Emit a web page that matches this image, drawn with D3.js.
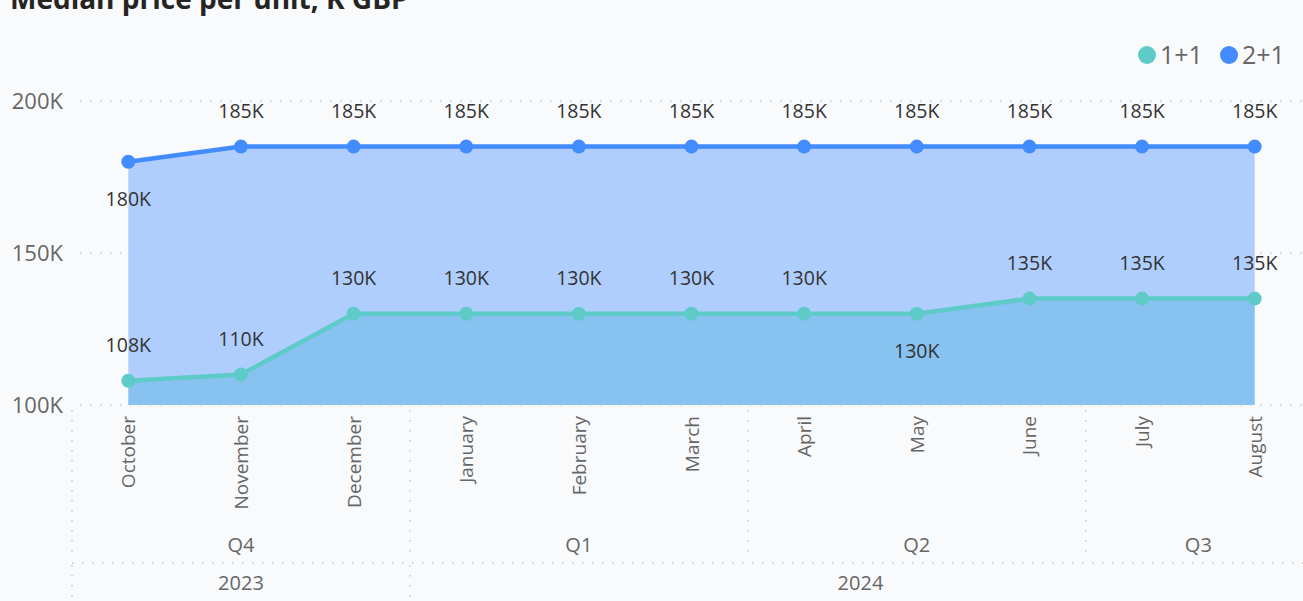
<!DOCTYPE html>
<html lang="en">
<head>
	<meta charset="utf-8">
	<title>Median price per unit</title>
	<script src="https://cdn.jsdelivr.net/npm/d3@7"></script>
	<style>
		html, body {
			margin: 0;
			padding: 0;
			background: #f9fafc;
			font-family: 'Open Sans', 'Noto Sans', sans-serif;
		}
		svg text { fill: #666; }
		.grid line { stroke: #c8c8c8; stroke-width: 1.5; stroke-dasharray: 1.5, 8.5; }
	</style>
</head>
<body>
<div id="viz"></div>
<script>
	const WIDTH = 1303;
	const HEIGHT = 601;

	// data
	const months = ["October", "November", "December", "January", "February", "March",
		"April", "May", "June", "July", "August"];
	const quarters = ["Q4", "Q4", "Q4", "Q1", "Q1", "Q1", "Q2", "Q2", "Q2", "Q3", "Q3"];
	const years = ["2023", "2023", "2023", "2024", "2024", "2024", "2024", "2024", "2024", "2024", "2024"];
	const oneBed = [108, 110, 130, 130, 130, 130, 130, 130, 135, 135, 135];
	const twoBed = [180, 185, 185, 185, 185, 185, 185, 185, 185, 185, 185];
	// label below the point?
	const oneBedBelow = [false, false, false, false, false, false, false, true, false, false, false];
	const twoBedBelow = [true, false, false, false, false, false, false, false, false, false, false];
	const yTicks = [100, 150, 200];

	const colTeal = "#5ecbc8";
	const colBlue = "#428cff";

	const svg = d3.select("#viz").append("svg")
		.attr("width", WIDTH)
		.attr("height", HEIGHT);

	const x = d3.scaleBand().domain(months).range([72, 1311]).padding(0);
	const y = d3.scaleLinear().domain([100, 200]).range([405, 101]);
	const cx = function(m) { return x(m) + x.bandwidth() / 2; };

	// title (cut by the top edge, as in the original)
	svg.append("text")
		.attr("x", 10).attr("y", 9)
		.style("font-size", "28px").style("font-weight", 700)
		.style("fill", "#252423")
		.text("Median price per unit, K GBP");

	// legend
	const legend = svg.append("g");
	[["1+1", colTeal, 1147], ["2+1", colBlue, 1229]].forEach(function(d) {
		legend.append("circle").attr("cx", d[2]).attr("cy", 55).attr("r", 9).attr("fill", d[1]);
		legend.append("text").attr("x", d[2] + 13).attr("y", 64)
			.style("font-size", "25px").text(d[0]);
	});

	// areas: teal first, blue over it, both transparent
	const s1 = months.map(function(m, i) { return {m: m, v: oneBed[i], below: oneBedBelow[i]}; });
	const s2 = months.map(function(m, i) { return {m: m, v: twoBed[i], below: twoBedBelow[i]}; });

	const area = d3.area()
		.x(function(d) { return cx(d.m); })
		.y0(y(100))
		.y1(function(d) { return y(d.v); });

	svg.append("path").datum(s1).attr("d", area).attr("fill", colTeal).attr("fill-opacity", 0.42);
	svg.append("path").datum(s2).attr("d", area).attr("fill", colBlue).attr("fill-opacity", 0.4);

	// y gridlines + axis
	const grid = svg.append("g").attr("class", "grid");
	grid.selectAll("line.h").data(yTicks).enter().append("line")
		.attr("x1", 80).attr("x2", WIDTH)
		.attr("y1", function(d) { return y(d); })
		.attr("y2", function(d) { return y(d); });

	svg.append("g").selectAll("text").data(yTicks).enter().append("text")
		.attr("x", 63).attr("y", function(d) { return y(d) + 8; })
		.attr("text-anchor", "end")
		.style("font-size", "22px")
		.text(function(d) { return d + "K"; });

	// lines and markers
	const line = d3.line()
		.x(function(d) { return cx(d.m); })
		.y(function(d) { return y(d.v); });

	[[s1, colTeal], [s2, colBlue]].forEach(function(s) {
		svg.append("path").datum(s[0]).attr("d", line)
			.attr("fill", "none").attr("stroke", s[1]).attr("stroke-width", 4.5);
		svg.append("g").selectAll("circle").data(s[0]).enter().append("circle")
			.attr("cx", function(d) { return cx(d.m); })
			.attr("cy", function(d) { return y(d.v); })
			.attr("r", 7)
			.attr("fill", s[1]);
		svg.append("g").selectAll("text").data(s[0]).enter().append("text")
			.attr("x", function(d) { return cx(d.m); })
			.attr("y", function(d) { return y(d.v) + (d.below ? 44 : -29); })
			.attr("text-anchor", "middle")
			.style("font-size", "19.5px").style("fill", "#333")
			.text(function(d) { return d.v + "K"; });
	});

	// month labels (rotated)
	svg.append("g").selectAll("text").data(months).enter().append("text")
		.attr("transform", function(m) { return "translate(" + (cx(m) + 7) + ",416) rotate(-90)"; })
		.attr("text-anchor", "end")
		.style("font-size", "19px")
		.text(function(m) { return m; });

	// hierarchy groups: quarters and years
	function groups(keys, parents) {
		const out = [];
		keys.forEach(function(k, i) {
			const id = (parents ? parents[i] : "") + k;
			const last = out[out.length - 1];
			if (last && last.id === id) last.end = i;
			else out.push({id: id, label: k, start: i, end: i});
		});
		return out;
	}
	const qGroups = groups(quarters, years);
	const yGroups = groups(years);
	const left = function(g) { return x(months[g.start]); };
	const right = function(g) { return x(months[g.end]) + x.bandwidth(); };

	// separators
	grid.selectAll("line.q").data(qGroups).enter().append("line")
		.attr("x1", left).attr("x2", left)
		.attr("y1", 410).attr("y2", 560);
	grid.selectAll("line.y").data(yGroups).enter().append("line")
		.attr("x1", left).attr("x2", left)
		.attr("y1", 565).attr("y2", HEIGHT);
	grid.append("line")
		.attr("x1", 72).attr("x2", WIDTH)
		.attr("y1", 563).attr("y2", 563);

	svg.append("g").selectAll("text").data(qGroups).enter().append("text")
		.attr("x", function(g) { return (left(g) + right(g)) / 2; })
		.attr("y", 552)
		.attr("text-anchor", "middle")
		.style("font-size", "20px")
		.text(function(g) { return g.label; });

	svg.append("g").selectAll("text").data(yGroups).enter().append("text")
		.attr("x", function(g) { return (left(g) + right(g)) / 2; })
		.attr("y", 590)
		.attr("text-anchor", "middle")
		.style("font-size", "20px")
		.text(function(g) { return g.label; });
</script>
</body>
</html>
